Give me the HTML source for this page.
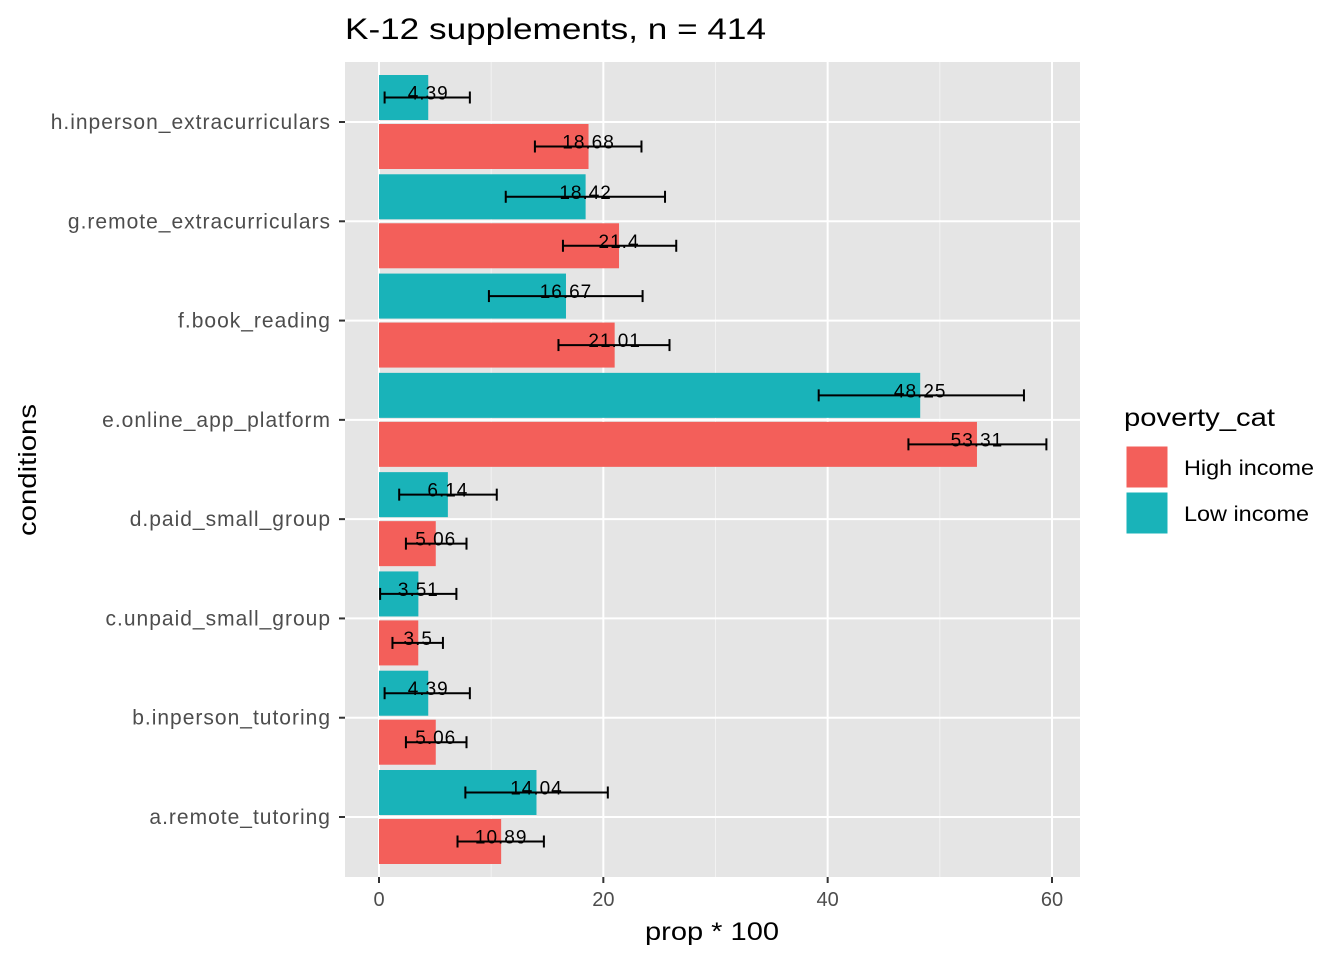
<!DOCTYPE html>
<html><head><meta charset="utf-8"><style>
body{margin:0;background:#fff;font-family:"Liberation Sans",Arial,sans-serif}
svg text{font-family:"Liberation Sans",Arial,sans-serif}
</style></head><body>
<svg id="chart" width="1344" height="960" xmlns="http://www.w3.org/2000/svg">
<rect x="0" y="0" width="1344" height="960" fill="#fff"/>
<rect x="345" y="62" width="735" height="815" fill="#e5e5e5"/>
<g id="grid"></g><g id="bars"></g><g id="axes"></g>
<text x="345" y="39" font-size="30" fill="#000" textLength="421" lengthAdjust="spacingAndGlyphs">K-12 supplements, n = 414</text>
<text x="712" y="940" font-size="25" text-anchor="middle" fill="#000" textLength="134" lengthAdjust="spacingAndGlyphs">prop * 100</text>
<text transform="translate(36,470) rotate(-90)" font-size="25" text-anchor="middle" fill="#000" textLength="132" lengthAdjust="spacingAndGlyphs">conditions</text>
<g>
<text x="1124" y="426" font-size="25" fill="#000" textLength="151" lengthAdjust="spacingAndGlyphs">poverty_cat</text>
<rect x="1126" y="446" width="42" height="42" fill="#f35f5a" stroke="#fff"/>
<text x="1184" y="475" font-size="21" fill="#000" textLength="130" lengthAdjust="spacingAndGlyphs">High income</text>
<rect x="1126" y="492" width="42" height="42" fill="#19b3b9" stroke="#fff"/>
<text x="1184" y="521" font-size="21" fill="#000" textLength="125" lengthAdjust="spacingAndGlyphs">Low income</text>
</g>
</svg>
<script>
const categories=["a.remote_tutoring","b.inperson_tutoring","c.unpaid_small_group","d.paid_small_group","e.online_app_platform","f.book_reading","g.remote_extracurriculars","h.inperson_extracurriculars"];
const highVals=[10.89,5.06,3.5,5.06,53.31,21.01,21.4,18.68];
const lowVals=[14.04,4.39,3.51,6.14,48.25,16.67,18.42,4.39];
const highLo=[7.0,2.4,1.2,2.4,47.2,16.0,16.4,13.9];
const highHi=[14.7,7.8,5.7,7.8,59.5,25.9,26.5,23.4];
const lowLo=[7.7,0.5,0.1,1.8,39.2,9.8,11.3,0.5];
const lowHi=[20.4,8.1,6.9,10.5,57.5,23.5,25.5,8.1];
const xTicks=[0,20,40,60];
const NS="http://www.w3.org/2000/svg";
const x=v=>379+v*(1052-379)/60;
const y=i=>817-i*(817-122)/7;
const bw=45;
function mk(tag,attrs,parent,txt){const e=document.createElementNS(NS,tag);for(const k in attrs)e.setAttribute(k,attrs[k]);if(txt!==undefined)e.textContent=txt;parent.appendChild(e);return e;}
const grid=document.getElementById('grid'),bars=document.getElementById('bars'),axes=document.getElementById('axes');
for(let t=10;t<=70;t+=20){if(x(t)<1080){const l=mk('line',{x1:x(t),x2:x(t),y1:62,y2:877,stroke:'#f2f2f2','stroke-width':1},grid);}}
xTicks.forEach(t=>{const l=mk('line',{x1:x(t),x2:x(t),y1:62,y2:877,stroke:'#fff','stroke-width':2},grid);

const tk=mk('line',{x1:x(t),x2:x(t),y1:877,y2:883,stroke:'#333','stroke-width':2},axes);

const tl=mk('text',{x:x(t),y:906,'font-size':20,'text-anchor':'middle',fill:'#4d4d4d'},axes,String(t));
});
categories.forEach((c,i)=>{const l=mk('line',{x1:345,x2:1080,y1:y(i),y2:y(i),stroke:'#fff','stroke-width':2},grid);

const tk=mk('line',{x1:339,x2:345,y1:y(i),y2:y(i),stroke:'#333','stroke-width':2},axes);

const tl=mk('text',{x:331,y:y(i)+7,'font-size':21,'text-anchor':'end',fill:'#4d4d4d',style:'letter-spacing:1px'},axes,c);

[[lowVals,lowLo,lowHi,'#19b3b9',-47,'low'],[highVals,highLo,highHi,'#f35f5a',2,'high']].forEach(([vals,lo,hi,col,off,nm])=>{
const top=y(i)+off; const cy=top+bw/2;
const r=mk('rect',{x:x(0),y:top,width:x(vals[i])-x(0),height:bw,fill:col},bars);

const g=mk('g',{stroke:'#000','stroke-width':2},bars);

mk('line',{x1:x(lo[i]),x2:x(hi[i]),y1:cy,y2:cy},g);
mk('line',{x1:x(lo[i]),x2:x(lo[i]),y1:cy-6,y2:cy+6},g);
mk('line',{x1:x(hi[i]),x2:x(hi[i]),y1:cy-6,y2:cy+6},g);
const t=mk('text',{x:x(vals[i]),y:cy+2,'font-size':19,'text-anchor':'middle',fill:'#000',style:'letter-spacing:1px'},bars,String(vals[i]));
});});
</script>
</body></html>
